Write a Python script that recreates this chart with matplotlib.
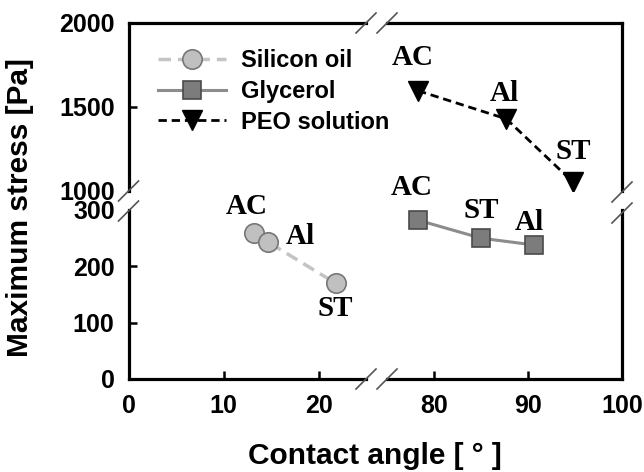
import matplotlib
matplotlib.use('Agg')
import matplotlib.pyplot as plt
from matplotlib.lines import Line2D

# values
silicon_x = [13.2, 14.7, 21.8]
silicon_y = [260, 243, 170]
silicon_lab = ['AC', 'Al', 'ST']
glycerol_x = [78.3, 85.0, 90.6]
glycerol_y = [282, 250, 238]
glycerol_lab = ['AC', 'ST', 'Al']
peo_x = [78.3, 87.7, 94.8]
peo_y = [1597, 1429, 1052]
peo_lab = ['AC', 'Al', 'ST']

xticks_left = [0, 10, 20]
xticks_right = [80, 90, 100]
yticks_low = [0, 100, 200, 300]
yticks_high = [1000, 1500, 2000]

# label offsets (points), same order as the labels above
silicon_off = [(-5.5, 13), (23, -1.5), (0, -23.5)]
glycerol_off = [(-4.3, 18), (0, 14.7), (-3, 11)]
peo_off = [(-3.6, 18.8), (-1.2, 12.8), (0, 16.4)]

plt.rcParams['font.family'] = 'Liberation Sans'
plt.rcParams['font.weight'] = 'bold'
plt.rcParams['lines.scale_dashes'] = False

W, H = 644, 472
fig = plt.figure(figsize=(W / 100, H / 100), dpi=100)


def px_box(x0, x1, ytop, ybot):
    return [x0 / W, 1 - ybot / H, (x1 - x0) / W, (ybot - ytop) / H]


ax_tl = fig.add_axes(px_box(128.5, 366, 23, 191))
ax_tr = fig.add_axes(px_box(387, 622, 23, 191))
ax_bl = fig.add_axes(px_box(128.5, 366, 210, 379))
ax_br = fig.add_axes(px_box(387, 622, 210, 379))

for ax in (ax_tl, ax_bl):
    ax.set_xlim(0, 25)
for ax in (ax_tr, ax_br):
    ax.set_xlim(75, 100)
for ax in (ax_tl, ax_tr):
    ax.set_ylim(1000, 2000)
for ax in (ax_bl, ax_br):
    ax.set_ylim(0, 300)

visible = {
    ax_tl: ['left', 'top'],
    ax_tr: ['right', 'top'],
    ax_bl: ['left', 'bottom'],
    ax_br: ['right', 'bottom'],
}
for ax, sides in visible.items():
    for s in ['left', 'right', 'top', 'bottom']:
        ax.spines[s].set_visible(s in sides)
        ax.spines[s].set_linewidth(2.3)
    ax.tick_params(direction='in', length=6, width=1.8, labelsize=18,
                   top=False, right=False, pad=10)
    ax.patch.set_alpha(0)

ax_tl.set_xticks([])
ax_tr.set_xticks([])
ax_tr.set_yticks([])
ax_br.set_yticks([])
ax_bl.set_xticks(xticks_left)
ax_br.set_xticks(xticks_right)
ax_bl.set_yticks(yticks_low)
ax_tl.set_yticks(yticks_high)
ax_bl.tick_params(axis='x', pad=11)
ax_br.tick_params(axis='x', pad=11)

# hide tick marks sitting on the break
ax_bl.yaxis.get_major_ticks()[-1].tick1line.set_visible(False)
ax_tl.yaxis.get_major_ticks()[0].tick1line.set_visible(False)

l_si, = ax_bl.plot(silicon_x, silicon_y, color='#c4c4c4', lw=2.5, dashes=(9, 5),
                   marker='o', ms=14, mfc='#c0c0c0', mec='#777777', mew=1.2,
                   label='Silicon oil')
l_gl, = ax_br.plot(glycerol_x, glycerol_y, color='#8c8c8c', lw=2.2,
                   marker='s', ms=13, mfc='#7c7c7c', mec='#4a4a4a', mew=1.2,
                   label='Glycerol')
l_peo, = ax_tr.plot(peo_x, peo_y, color='black', lw=2, dashes=(6, 3.5),
                    marker='v', ms=14, mfc='black', mec='black',
                    label='PEO solution')

for ax, xs, ys, labs, offs in [(ax_bl, silicon_x, silicon_y, silicon_lab, silicon_off),
                               (ax_br, glycerol_x, glycerol_y, glycerol_lab, glycerol_off),
                               (ax_tr, peo_x, peo_y, peo_lab, peo_off)]:
    for lab, x, y, off in zip(labs, xs, ys, offs):
        ax.annotate(lab, (x, y), xytext=off, textcoords='offset points',
                    ha='center', va='baseline', family='Liberation Serif',
                    fontweight='bold', fontsize=21)

ax_tl.legend(handles=[l_si, l_gl, l_peo], loc='upper left',
             bbox_to_anchor=(0.124, 0.845), frameon=False, borderpad=0,
             borderaxespad=0, handlelength=2.9, handletextpad=0.6,
             labelspacing=0.33, numpoints=1, prop={'size': 17, 'weight': 'bold'})

# break marks
def slash(cx, cy):
    fig.add_artist(Line2D([(cx - 10) / W, (cx + 10) / W],
                          [1 - (cy + 10) / H, 1 - (cy - 10) / H],
                          transform=fig.transFigure, color='#555555', lw=1.2))


for cx, cy in [(366, 23), (387, 23), (366, 379), (387, 379),
               (128.5, 191), (128.5, 211), (622, 192), (622, 213)]:
    slash(cx, cy)

fig.text(375 / W, 1 - 456 / H, 'Contact angle [ ° ]', ha='center', va='center',
         fontsize=21.5, fontweight='bold')
fig.text(20 / W, 1 - 208 / H, 'Maximum stress [Pa]', ha='center', va='center',
         rotation=90, fontsize=21.5, fontweight='bold')

fig.savefig('out.png', dpi=100)
